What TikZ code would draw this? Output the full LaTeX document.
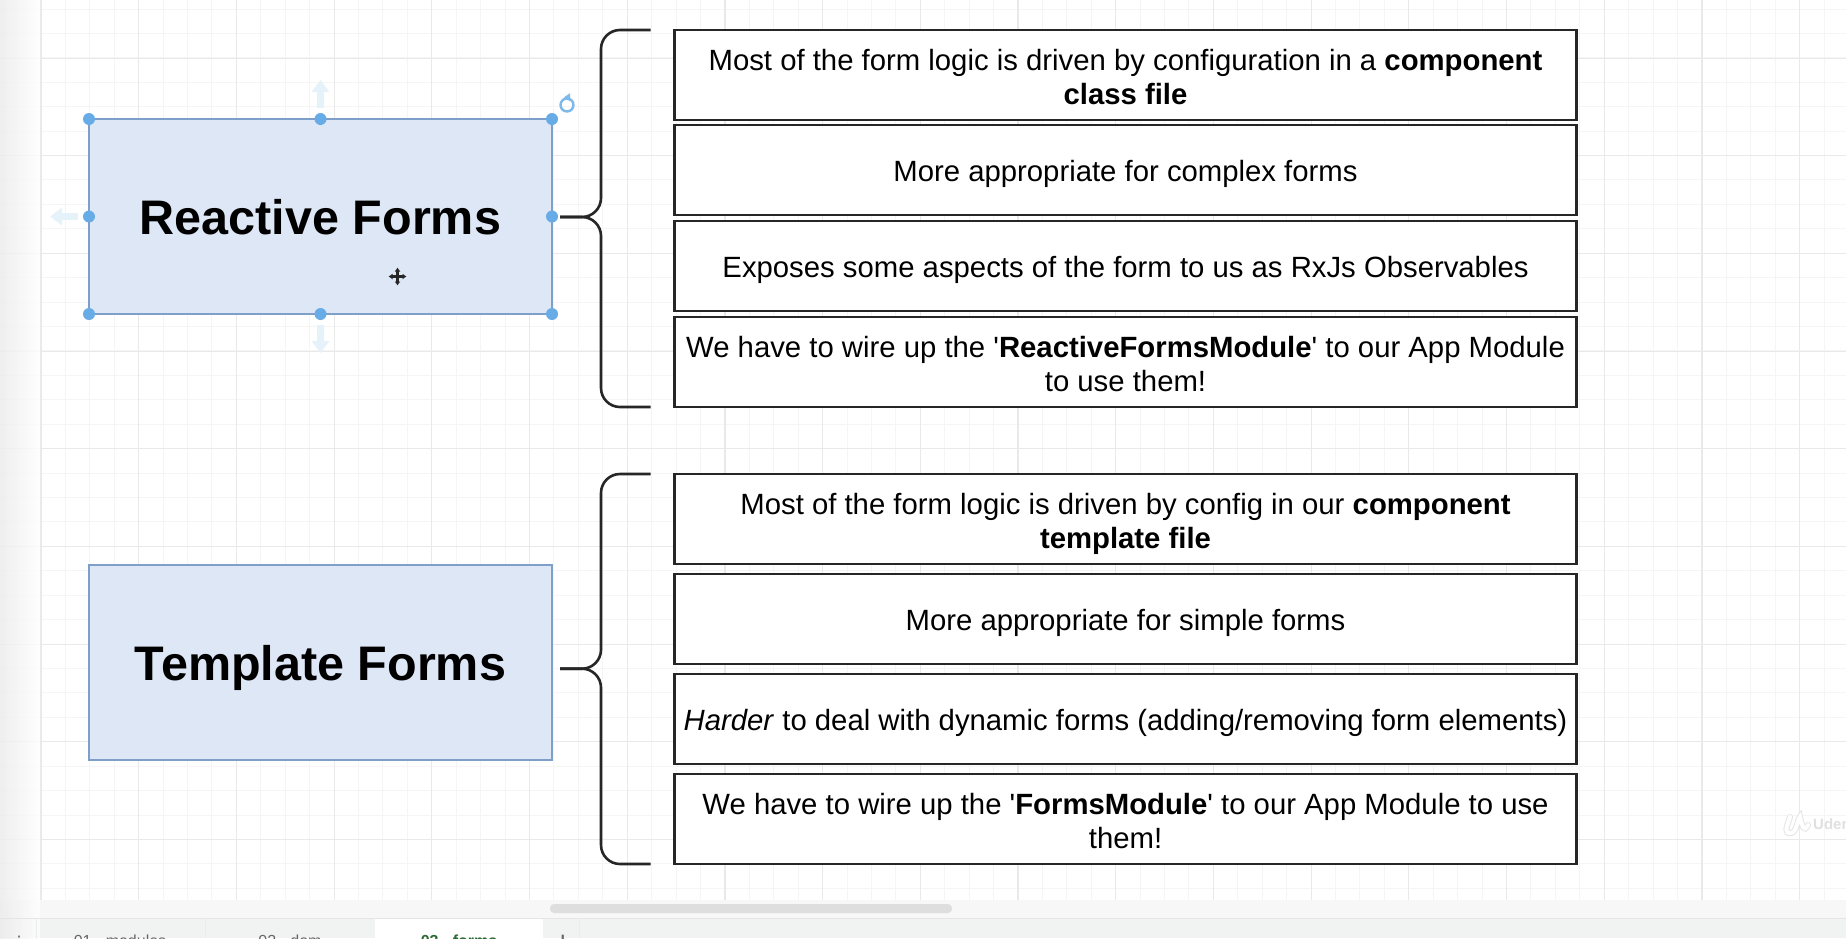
\documentclass[tikz,border=0pt]{standalone}
\usepackage{xcolor}
\usepackage{fontspec}
\setmainfont{Liberation Sans}
\newfontfamily\symbolfont{DejaVu Sans}
\usetikzlibrary{arrows.meta,positioning}
\definecolor{formfill}{HTML}{DDE7F6}
\definecolor{formline}{HTML}{7F9FCB}
\definecolor{handlecol}{HTML}{67ACE6}
\definecolor{rotorcol}{HTML}{7DB9EA}
\definecolor{hintcol}{HTML}{E6F2FA}
\definecolor{gridmin}{HTML}{F5F5F5}
\definecolor{gridmaj}{HTML}{E9E9E9}
\definecolor{barcol}{HTML}{F6F7F6}
\definecolor{tabcol}{HTML}{F1F3F2}
\definecolor{tabtext}{HTML}{666666}
\definecolor{tabgreen}{HTML}{2E6B34}

\begin{document}
\begin{tikzpicture}[x=1pt,y=-1pt,
  titlebox/.style={draw=formline,line width=2.5pt,fill=formfill,minimum width=463pt,minimum height=195pt,inner sep=0pt,outer sep=0pt,text height=35pt,text depth=0pt,font=\fontsize{48.5}{58}\selectfont\bfseries},
  rowbox/.style={draw=black!85,line width=2.8pt,fill=white,minimum width=902pt,minimum height=90pt,inner sep=0pt,outer sep=0pt,align=center,text height=23pt,text depth=0pt,font=\fontsize{29.3}{34}\selectfont},
  tworow/.style={rowbox,text height=58pt},
  curly/.style={draw=black!85,line width=2.6pt,rounded corners=19pt},
  handle/.style={circle,fill=handlecol,minimum size=12pt,inner sep=0pt},
  hint/.style={-{Triangle[length=12pt,width=17pt]},line width=7pt,draw=hintcol},
  mover/.style={draw=black!85,line width=2.2pt,{Latex[length=4pt,width=6pt]}-{Latex[length=4pt,width=6pt]}},
  tabname/.style={anchor=base,font=\fontsize{16}{20}\selectfont,text=tabtext}]
  \useasboundingbox (0,0) rectangle (1846,938);
  \begin{scope}
  \clip (0,0) rectangle (1846,938);
  % sheet and grid
  \fill[white] (0,0) rectangle (1846,900);
  \fill[barcol] (0,900) rectangle (1846,918);
  \fill[tabcol] (0,918) rectangle (1846,938);
  \foreach \i in {0,...,74} \draw[gridmin,line width=1pt] (41+24.425*\i,0) -- (41+24.425*\i,900);
  \foreach \i in {0,...,36} \draw[gridmin,line width=1pt] (0,9+24.425*\i) -- (1846,9+24.425*\i);
  \foreach \i in {0,...,18} \draw[gridmaj,line width=1.2pt] (41+97.7*\i,0) -- (41+97.7*\i,900);
  \foreach \i in {0,...,8} \draw[gridmaj,line width=1pt] (0,58+97.7*\i) -- (1846,58+97.7*\i);
  \shade[left color=black!8,right color=white,opacity=.8] (0,0) rectangle (40,938);
  % tab bar
  \draw[black!10,line width=1pt] (0,918) -- (1846,918);
  \fill[black!13,rounded corners=4pt] (550,904) rectangle (952,913);
  \fill[white] (375,919) rectangle (543,938);
  \foreach \x in {36,205,579} \draw[black!8,line width=1pt] (\x,918) -- (\x,938);
  \node[tabname,font=\fontsize{16}{20}\symbolfont] (tabdots) at (19,947) {⋮};
  \node[tabname] (tabone) at (120,946) {01 - modules};
  \node[tabname] (tabtwo) at (290,946) {02 - dom};
  \node[tabname,text=tabgreen,font=\fontsize{16}{20}\selectfont\bfseries] (tabthree) at (459,946) {03 - forms};
  \node[tabname,font=\fontsize{30}{30}\selectfont] (tabadd) at (563,952) {+};
  % watermark
  \draw[black!10,line width=6pt,line cap=round] (1790,817) .. controls (1786,828) and (1784,834) .. (1791,833) .. controls (1797,832) and (1797,820) .. (1800,817) .. controls (1802,826) and (1804,833) .. (1808,825);
  \draw[white,line width=4pt,line cap=round] (1790,817) .. controls (1786,828) and (1784,834) .. (1791,833) .. controls (1797,832) and (1797,820) .. (1800,817) .. controls (1802,826) and (1804,833) .. (1808,825);
  \node[anchor=west,text=black!12,font=\fontsize{15}{18}\selectfont\bfseries,inner sep=0pt] (udemy) at (1813,826) {Udemy};
  \end{scope}
  % form types
  \node[titlebox] (reactive) at (320.5,216.5) {Reactive Forms};
  \node[titlebox,below=251pt of reactive] (template) {Template Forms};
  % reactive rows
  \node[tworow] (rlogic) at (1125.5,75) {Most of the form logic is driven by configuration in a \textbf{component}\\\textbf{class file}};
  \node[rowbox,below=5pt of rlogic] (rcomplex) {More appropriate for complex forms};
  \node[rowbox,below=6pt of rcomplex] (rexpose) {Exposes some aspects of the form to us as RxJs Observables};
  \node[tworow,below=6pt of rexpose] (rwire) {We have to wire up the \textquotesingle\textbf{ReactiveFormsModule}\textquotesingle{} to our App Module\\to use them!};
  % template rows
  \node[tworow] (tlogic) at (1125.5,519) {Most of the form logic is driven by config in our \textbf{component}\\\textbf{template file}};
  \node[rowbox,below=10pt of tlogic] (tsimple) {More appropriate for simple forms};
  \node[rowbox,below=10pt of tsimple] (tdynamic) {\textit{Harder} to deal with dynamic forms (adding/removing form elements)};
  \node[tworow,below=10pt of tdynamic] (twire) {We have to wire up the \textquotesingle\textbf{FormsModule}\textquotesingle{} to our App Module to use\\them!};
  % braces
  \coordinate (rtop) at ([xshift=-24pt]rlogic.north west);
  \coordinate (rbot) at ([xshift=-24pt]rwire.south west);
  \coordinate (rtip) at (560,217);
  \coordinate (rjoin) at (601,217);
  \coordinate (ttop) at ([xshift=-24pt]tlogic.north west);
  \coordinate (tbot) at ([xshift=-24pt]twire.south west);
  \coordinate (ttip) at (560,668.7);
  \coordinate (tjoin) at (601,668.7);
  \draw[curly] (rtop) -| (rjoin) -- (rtip);
  \draw[curly] (rbot) -| (rjoin) -- (rtip);
  \draw[curly] (ttop) -| (tjoin) -- (ttip);
  \draw[curly] (tbot) -| (tjoin) -- (ttip);
  % selection handles
  \foreach \a in {north west,north,north east,east,south east,south,south west,west}
    \node[handle] at (reactive.\a) {};
  \coordinate (hintup) at ([yshift=11pt]reactive.north);
  \coordinate (hintdown) at ([yshift=-11pt]reactive.south);
  \coordinate (hintleft) at ([xshift=-11pt]reactive.west);
  \draw[hint] (hintup) -- ++(0,-28);
  \draw[hint] (hintdown) -- ++(0,28);
  \draw[hint] (hintleft) -- ++(-28,0);
  % rotate handle
  \node[circle,draw=rotorcol,line width=2.4pt,minimum size=13pt,inner sep=0pt] (rotor) at (567,105) {};
  \fill[rotorcol] ([shift={(3pt,4pt)}]rotor.north) -- ([shift={(3pt,-4pt)}]rotor.north) -- ([shift={(-3pt,0pt)}]rotor.north) -- cycle;
  % move cursor
  \coordinate (cursor) at (397.5,276.5);
  \draw[mover] ([xshift=-9pt]cursor) -- ([xshift=9pt]cursor);
  \draw[mover] ([yshift=-9pt]cursor) -- ([yshift=9pt]cursor);
\end{tikzpicture}
\end{document}
